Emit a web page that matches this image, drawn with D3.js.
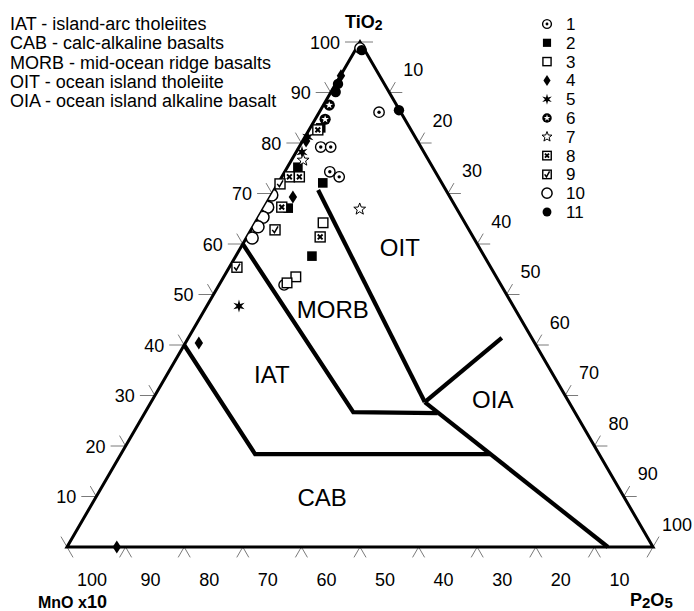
<!DOCTYPE html>
<html><head><meta charset="utf-8">
<script src="https://cdn.jsdelivr.net/npm/d3@7"></script>
<style>body{margin:0;background:#fff}svg{display:block}text{font-family:"Liberation Sans",Arial,sans-serif}</style>
</head><body>
<svg id="chart" width="694" height="611"></svg>
<script>
// ---------- data (ternary: [MnO x10, TiO2, P2O5]) ----------
const tickValues = [0,10,20,30,40,50,60,70,80,90,100];
const fieldNotes = ["IAT - island-arc tholeiites","CAB - calc-alkaline basalts","MORB - mid-ocean ridge basalts","OIT - ocean island tholeiite","OIA - ocean island alkaline basalt"];
const seriesNames = ["1","2","3","4","5","6","7","8","9","10","11"];
const series1  = [[0.6,98.8,0.6],[3.7,86.1,10.2],[17.1,79.2,3.7],[15.4,79.2,5.4],[18.0,74.3,7.7],[16.9,73.3,9.8],[37.0,51.9,11.1]];
const series2  = [[23.0,75.2,1.8],[20.3,72.1,7.6],[28.7,67.1,4.2],[29.4,57.6,13.0],[15.2,83.0,1.8]];
const series3  = [[24.2,64.2,11.6],[34.2,53.5,12.3],[36.3,52.3,11.4]];
const series4  = [[6.6,93.3,0.1],[26.8,69.3,3.9],[57.3,40.4,2.3],[91.5,0,8.5],[19.0,80.4,0.6]];
const series5  = [[20.8,78.2,1.0],[46.8,47.7,5.5],[18.3,81.2,0.5]];
const series6  = [[11.5,87.5,1.0],[13.6,84.7,1.7]];
const series7  = [[16.6,66.9,16.5],[21.4,76.6,2.0]];
const series8  = [[25.4,73.3,1.3],[23.7,73.3,3.0],[29.7,67.3,3.0],[26.1,61.4,12.5],[15.9,82.6,1.5]];
const series9  = [[27.7,71.9,0.4],[33.1,62.8,4.1],[43.3,55.4,1.3]];
const series10 = [[30.2,69.7,0.1],[32.1,67.3,0.6],[33.9,65.3,0.8],[35.7,63.4,0.9],[37.8,61.2,1.0]];
const series11 = [[0.5,98.4,1.1],[0.1,86.5,13.4],[7.9,91.7,0.4],[9.1,90.1,0.8]];
const allSeries = [series1,series2,series3,series4,series5,series6,series7,series8,series9,series10,series11];
const boundaryLines = [
  [[40,60,0],[37.8,26.7,35.5],[23.5,26.5,50.0]],
  [[21.8,70.7,7.5],[24.6,28.7,46.7]],
  [[24.6,28.7,46.7],[5.1,41.4,53.5]],
  [[24.6,28.7,46.7],[7.7,0,92.3]],
  [[60,40,0],[58.7,18.4,22.9],[18.6,18.4,63.0]]
];
const fieldNames = ["IAT","MORB","OIT","OIA","CAB"];
const fieldCentres = [[48.0,34.1,17.9],[31.1,47.1,21.8],[13.5,59.4,27.1],[12.7,29.3,58.0],[51.5,9.9,38.6]];

// ---------- scales ----------
const svg = d3.select("#chart");
const xS = d3.scaleLinear().domain([0,100]).range([67,653]);
const yS = d3.scaleLinear().domain([0,100]).range([547,42]);
const P = d => [xS(d[2] + d[1]/2), yS(d[1])];
const Lv = P([100,0,0]), Tv = P([0,100,0]), Rv = P([0,0,100]);
function unit(a,b){const dx=b[0]-a[0],dy=b[1]-a[1],l=Math.hypot(dx,dy);return [dx/l,dy/l];}
const upLeft = unit(Rv,Tv), upRight = unit(Lv,Tv), downLeft = unit(Tv,Lv), downRight = unit(Tv,Rv);
const TL = 12, GREY = "#7a7a7a";
const tickG = svg.append("g").attr("stroke",GREY).attr("stroke-width",1);
function seg(p,dir,len){tickG.append("line").attr("x1",p[0]).attr("y1",p[1]).attr("x2",p[0]+dir[0]*len).attr("y2",p[1]+dir[1]*len);}

svg.append("clipPath").attr("id","tri").append("path").attr("d",d3.line()([Lv,Tv,Rv])+"Z");

tickValues.forEach(k=>{
  const pl = P([100-k,k,0]);
  if(k>=10) seg(pl,[-1,0],15);
  if(k<=90) seg(pl,upLeft,TL);
  const pr = P([0,100-k,k]);
  if(k<=90) seg(pr,[1,0],13);
  if(k>=10) seg(pr,upRight,TL);
  const pb = P([k,0,100-k]);
  if(k<=90) seg(pb,downLeft,TL);
  if(k>=10) seg(pb,downRight,TL);
});

// tick labels
const lab = svg.append("g").attr("font-size",18).attr("fill","#000");
tickValues.filter(k=>k>=10).forEach(k=>{
  const pl = P([100-k,k,0]);
  lab.append("text").attr("x",pl[0]-20).attr("y",pl[1]+6.5).attr("text-anchor","end").text(k);
  const pr = P([0,100-k,k]);
  lab.append("text").attr("x",pr[0]+24).attr("y",pr[1]-16.5).attr("text-anchor","middle").text(k);
  const pb = P([k,0,100-k]);
  lab.append("text").attr("x",pb[0]+25).attr("y",586).attr("text-anchor","middle").text(k);
});

// triangle
svg.append("path").attr("d",d3.line()([Lv,Tv,Rv])+"Z").attr("fill","none").attr("stroke","#000").attr("stroke-width",3).attr("stroke-linejoin","miter");
// field boundaries
boundaryLines.forEach(l=>{
  svg.append("path").attr("d",d3.line()(l.map(P))).attr("fill","none").attr("stroke","#000").attr("stroke-width",4.2).attr("stroke-linejoin","miter");
});
// field names
fieldNames.forEach((n,i)=>{
  const p = P(fieldCentres[i]);
  svg.append("text").attr("x",p[0]).attr("y",p[1]+8.5).attr("text-anchor","middle").attr("font-size",24).text(n);
});

// axis titles
const t1 = svg.append("text").attr("x",345).attr("y",28).attr("font-size",18).attr("font-weight","bold");
t1.append("tspan").text("TiO");
t1.append("tspan").attr("font-size",14).attr("dy",2).text("2");
const t2 = svg.append("text").attr("x",38).attr("y",608).attr("font-size",16).attr("font-weight","bold");
t2.append("tspan").text("MnO x");
t2.append("tspan").attr("font-size",18).text("10");
const t3 = svg.append("text").attr("x",630).attr("y",606).attr("font-size",18).attr("font-weight","bold");
t3.append("tspan").text("P");
t3.append("tspan").attr("font-size",15).attr("dy",2).text("2");
t3.append("tspan").attr("font-size",18).attr("dy",-2).text("O");
t3.append("tspan").attr("font-size",15).attr("dy",2).text("5");

// notes
fieldNotes.forEach((t,i)=>{
  svg.append("text").attr("x",10).attr("y",30+i*19.3).attr("font-size",18).text(t);
});

// symbols
function star(n,ro,ri){const pts=[];for(let i=0;i<2*n;i++){const r=i%2?ri:ro,a=-Math.PI/2+i*Math.PI/n;pts.push([r*Math.cos(a),r*Math.sin(a)]);}return d3.line()(pts)+"Z";}
function drawSymbol(g,type,k){
  switch(type){
    case 0: g.append("circle").attr("r",5.2*k).attr("fill","#fff").attr("stroke","#000").attr("stroke-width",1.4);
            g.append("circle").attr("r",1.7*k).attr("fill","#000"); break;
    case 1: g.append("rect").attr("x",-4.8*k).attr("y",-4.8*k).attr("width",9.6*k).attr("height",9.6*k).attr("fill","#000"); break;
    case 2: g.append("rect").attr("x",-4.8*k).attr("y",-4.8*k).attr("width",9.6*k).attr("height",9.6*k).attr("fill","#fff").attr("stroke","#000").attr("stroke-width",1.4); break;
    case 3: g.append("path").attr("d",`M0,${-6.5*k}L${4.2*k},0L0,${6.5*k}L${-4.2*k},0Z`).attr("fill","#000"); break;
    case 4: g.append("path").attr("d",star(6,6.5*k,2.4*k)).attr("fill","#000"); break;
    case 5: g.append("circle").attr("r",5.6*k).attr("fill","#000");
            g.append("path").attr("d",star(5,4*k,1.6*k)).attr("fill","#fff"); break;
    case 6: g.append("path").attr("d",star(5,6.2*k,2.6*k)).attr("fill","#fff").attr("stroke","#000").attr("stroke-width",1); break;
    case 7: g.append("rect").attr("x",-5*k).attr("y",-5*k).attr("width",10*k).attr("height",10*k).attr("fill","#fff").attr("stroke","#000").attr("stroke-width",1.4);
            g.append("path").attr("d",`M${-2.4*k},${-2.4*k}L${2.4*k},${2.4*k}M${2.4*k},${-2.4*k}L${-2.4*k},${2.4*k}`).attr("stroke","#000").attr("stroke-width",1.9); break;
    case 8: g.append("rect").attr("x",-5*k).attr("y",-5*k).attr("width",10*k).attr("height",10*k).attr("fill","#fff").attr("stroke","#000").attr("stroke-width",1.4);
            g.append("path").attr("d",`M${-2.8*k},0L${-0.6*k},${2.8*k}L${3*k},${-3.6*k}`).attr("fill","none").attr("stroke","#000").attr("stroke-width",1.5); break;
    case 9: g.append("circle").attr("r",6*k).attr("fill","#fff").attr("stroke","#000").attr("stroke-width",1.5); break;
    case 10: g.append("circle").attr("r",5.2*k).attr("fill","#000"); break;
  }
}
const ptsG = svg.append("g");
const ptsClip = svg.append("g").attr("clip-path","url(#tri)");
allSeries.forEach((ser,si)=>{
  ser.forEach(d=>{
    const p=P(d);
    const host = si===9 ? ptsClip : ptsG;
    drawSymbol(host.append("g").attr("transform",`translate(${p[0]},${p[1]})`),si,1);
  });
});

// legend
const lg = svg.append("g");
seriesNames.forEach((n,i)=>{
  const y = 24 + i*18.8;
  drawSymbol(lg.append("g").attr("transform",`translate(547,${y})`),i,0.85);
  lg.append("text").attr("x",566).attr("y",y+6).attr("font-size",17).text(n);
});
</script>
</body></html>
